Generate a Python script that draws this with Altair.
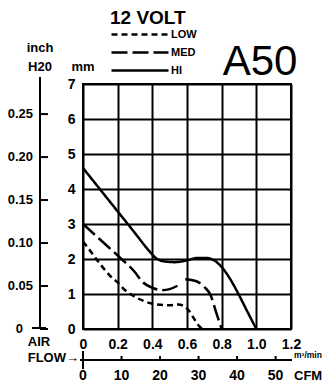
import altair as alt
import pandas as pd

FONT = "Liberation Sans, Arial, sans-serif"

# ---- curve data (flow in m3/min, static pressure in mm H2O) ----
hi_flow = [0, 0.1, 0.2, 0.3, 0.38, 0.42, 0.47, 0.53, 0.6, 0.66, 0.71, 0.76, 0.8, 0.85, 0.9, 0.95, 1.0]
hi_mm = [4.6, 3.98, 3.36, 2.74, 2.24, 2.03, 1.93, 1.91, 1.96, 2.03, 2.03, 1.95, 1.77, 1.42, 0.97, 0.48, 0.0]

med_flow_a = [0, 0.1, 0.2, 0.3, 0.34, 0.41, 0.45, 0.5, 0.55]
med_mm_a = [3.0, 2.55, 2.1, 1.62, 1.36, 1.16, 1.11, 1.14, 1.25]
med_flow_b = [0.59, 0.65, 0.7, 0.735, 0.77, 0.8]
med_mm_b = [1.42, 1.37, 1.2, 0.98, 0.45, 0.0]

low_flow = [0, 0.05, 0.1, 0.16, 0.2, 0.24, 0.3, 0.35, 0.4, 0.45, 0.5, 0.55, 0.58, 0.61, 0.64, 0.67, 0.69]
low_mm = [2.5, 2.18, 1.85, 1.5, 1.33, 1.12, 0.92, 0.8, 0.72, 0.69, 0.68, 0.7, 0.66, 0.53, 0.3, 0.08, 0.0]

speeds = ["LOW", "MED", "HI"]
flow_ticks = [0, 0.2, 0.4, 0.6, 0.8, 1.0, 1.2]
mm_ticks = [0, 1, 2, 3, 4, 5, 6, 7]
inch_ticks = [0, 0.05, 0.10, 0.15, 0.20, 0.25]
inch_labels = ["0", "0.05", "0.10", "0.15", "0.20", "0.25"]
cfm_ticks = [0, 10, 20, 30, 40, 50]
cfm_labels = ["0", "10", "20", "30", "40", "50"]

rows = []
for f, m in zip(hi_flow, hi_mm):
    rows.append({"flow": f, "mm": m, "speed": "HI", "seg": "HI"})
for f, m in zip(med_flow_a, med_mm_a):
    rows.append({"flow": f, "mm": m, "speed": "MED", "seg": "MED-a"})
for f, m in zip(med_flow_b, med_mm_b):
    rows.append({"flow": f, "mm": m, "speed": "MED", "seg": "MED-b"})
for f, m in zip(low_flow, low_mm):
    rows.append({"flow": f, "mm": m, "speed": "LOW", "seg": "LOW"})
curves = pd.DataFrame(rows)

W, H = 208, 245

curve_layer = alt.Chart(curves).mark_line(
    color="black", strokeWidth=2.5, interpolate="monotone"
).encode(
    x=alt.X("flow:Q", scale=alt.Scale(domain=[0, 1.2], nice=False, zero=False),
            axis=alt.Axis(values=flow_ticks, title=None, grid=True, gridColor="black",
                          gridWidth=2, gridOpacity=1, ticks=False, tickSize=0, domain=False,
                          labelExpr="datum.value == 0 ? '0' : format(datum.value, '.1f')",
                          labelFont=FONT, labelFontSize=14, labelFontWeight="bold",
                          labelColor="black", labelPadding=8, labelFlush=False)),
    y=alt.Y("mm:Q", scale=alt.Scale(domain=[0, 7], nice=False),
            axis=alt.Axis(values=mm_ticks, title=None, grid=True, gridColor="black",
                          gridWidth=2, gridOpacity=1, ticks=False, tickSize=0, domain=False,
                          format="d", labelFont=FONT, labelFontSize=14, labelFontWeight="bold",
                          labelColor="black", labelPadding=8, labelFlush=False)),
    strokeDash=alt.StrokeDash(
        "speed:N",
        scale=alt.Scale(domain=speeds, range=[[6, 4], [16, 5], [1, 0]]),
        legend=alt.Legend(title="12 VOLT", orient="none", legendX=27, legendY=-75,
                          symbolType="stroke", symbolSize=3249, symbolStrokeWidth=2.5,
                          symbolStrokeColor="black", clipHeight=13, rowPadding=5,
                          labelOffset=1, labelFont=FONT, labelFontSize=11,
                          labelFontWeight="bold", labelColor="black",
                          titleFont=FONT, titleFontSize=19, titleFontWeight="bold",
                          titleColor="black", titlePadding=0, padding=0),
    ),
    detail="seg:N",
)

# ---- inch H2O axis (drawn with its own scale) ----
inch_df = pd.DataFrame({"inch": inch_ticks, "label": inch_labels})
inch_scale = alt.Scale(domain=[0, 0.285], nice=False)
one = pd.DataFrame({"k": [0]})

inch_line = alt.Chart(one).mark_rule(color="black", strokeWidth=2).encode(
    x=alt.value(-43), y=alt.value(-7), y2=alt.value(245))
inch_foot = alt.Chart(one).mark_rule(color="black", strokeWidth=2).encode(
    x=alt.value(-51), x2=alt.value(-37), y=alt.value(244))
inch_tick_layer = alt.Chart(inch_df).mark_rule(color="black", strokeWidth=2).encode(
    y=alt.Y("inch:Q", scale=inch_scale, axis=None), x=alt.value(-43), x2=alt.value(-35))
inch_label_layer = alt.Chart(inch_df).transform_filter("datum.inch > 0").mark_text(
    align="right", baseline="middle", font=FONT, fontSize=13, fontWeight="bold", color="black"
).encode(y=alt.Y("inch:Q", scale=inch_scale, axis=None), x=alt.value(-50), text="label:N")
inch_zero_label = alt.Chart(inch_df).transform_filter("datum.inch == 0").mark_text(
    align="right", baseline="middle", font=FONT, fontSize=13, fontWeight="bold", color="black"
).encode(y=alt.Y("inch:Q", scale=inch_scale, axis=None), x=alt.value(-60), text="label:N")

# ---- CFM axis ----
cfm_df = pd.DataFrame({"cfm": cfm_ticks, "label": cfm_labels})
cfm_scale = alt.Scale(domain=[0, 54], nice=False, zero=False)
cfm_line = alt.Chart(one).mark_rule(color="black", strokeWidth=2).encode(
    x=alt.value(-3), x2=alt.value(209), y=alt.value(276))
cfm_tick_layer = alt.Chart(cfm_df).transform_filter("datum.cfm > 0").mark_rule(
    color="black", strokeWidth=2).encode(
    x=alt.X("cfm:Q", scale=cfm_scale, axis=None), y=alt.value(272), y2=alt.value(276))
cfm_zero = alt.Chart(cfm_df).transform_filter("datum.cfm == 0").mark_rule(
    color="black", strokeWidth=2).encode(
    x=alt.X("cfm:Q", scale=cfm_scale, axis=None), y=alt.value(267), y2=alt.value(285))
cfm_label_layer = alt.Chart(cfm_df).mark_text(
    align="center", baseline="middle", font=FONT, fontSize=14, fontWeight="bold", color="black"
).encode(x=alt.X("cfm:Q", scale=cfm_scale, axis=None), y=alt.value(292), text="label:N")


def label(txt, x, y, size=13, align="center", weight="bold", baseline="middle", font=FONT):
    return alt.Chart(pd.DataFrame({"t": [txt]})).mark_text(
        align=align, baseline=baseline, fontSize=size, fontWeight=weight, font=font, color="black"
    ).encode(text="t:N", x=alt.value(x), y=alt.value(y))


texts = [
    label("inch", -43, -36),
    label("H20", -43, -17),
    label("mm", 0, -17),
    label("A50", 177, -9, size=42, weight="normal", baseline="alphabetic"),
    label("AIR", -44, 258),
    label("FLOW\u2192", -4, 274, align="right"),
    label("CFM", 211, 292, align="left"),
    label("m\u00b3/min", 211, 271, size=8.5, align="left"),
]

chart = alt.layer(
    curve_layer, inch_line, inch_foot, inch_tick_layer, inch_label_layer, inch_zero_label,
    cfm_line, cfm_tick_layer, cfm_zero, cfm_label_layer, *texts
).resolve_scale(x="independent", y="independent", strokeDash="independent").properties(
    width=W, height=H,
    autosize=alt.AutoSizeParams(type="none"),
    padding={"left": 75, "top": 76, "right": 31, "bottom": 54},
).configure_view(stroke="black", strokeWidth=2)

chart.save("out.html", embed_options={"renderer": "svg", "actions": False})
